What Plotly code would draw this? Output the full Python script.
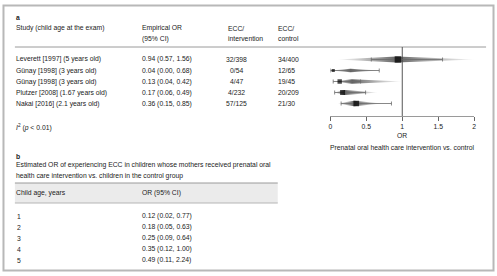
import plotly.graph_objects as go

# ---------------- data ----------------
studies = ["Leverett [1997] (5 years old)", "Günay [1998] (3 years old)",
           "Günay [1998] (3 years old)", "Plutzer [2008] (1.67 years old)",
           "Nakai [2016] (2.1 years old)"]
or_est = [0.94, 0.04, 0.13, 0.17, 0.36]
or_lo = [0.57, 0.00, 0.04, 0.06, 0.15]
or_hi = [1.56, 0.68, 0.42, 0.49, 0.85]
ecc_intervention = ["32/398", "0/54", "4/47", "4/232", "57/125"]
ecc_control = ["34/400", "12/65", "19/45", "20/209", "21/30"]
study_weight = [30, 8, 16, 20, 24]
# shaded distribution extent per study (OR scale)
dist_lo = [0.10, 0.01, 0.04, 0.05, 0.10]
dist_mode = [0.92, 0.28, 0.30, 0.20, 0.33]
dist_hi = [2.00, 0.68, 1.00, 0.66, 0.72]
het_p_text = "0.01"

child_age = [1, 2, 3, 4, 5]
b_or = [0.12, 0.18, 0.25, 0.35, 0.49]
b_lo = [0.02, 0.05, 0.09, 0.12, 0.11]
b_hi = [0.77, 0.63, 0.64, 1.00, 2.24]

x_ticks = [0, 0.5, 1, 1.5, 2]
x_ticktext = ["0", "0.5", "1", "1.5", "2"]

# ---------------- layout helpers ----------------
W, H = 497, 276
FONT = "Liberation Sans"
FS = 6.8
TXT = "#222222"


def px(x):
    return x / W


def py(y):
    return 1 - y / H


def fmt(e, l, h):
    return f"{e:.2f} ({l:.2f}, {h:.2f})"


fig = go.Figure()

n = len(studies)
rows = list(range(n))
wmax = max(study_weight)

# shaded spindles
for i in rows:
    lo, mo, hi = dist_lo[i], dist_mode[i], dist_hi[i]
    hh = 0.12 + 0.16 * study_weight[i] / wmax
    p = (mo - lo) / (hi - lo)
    fig.add_trace(go.Scatter(
        x=[lo, mo, hi, mo, lo], y=[i, i - hh, i, i + hh, i],
        mode="lines", line=dict(width=0), fill="toself",
        fillgradient=dict(type="horizontal", start=lo, stop=hi,
                          colorscale=[[0, "rgba(120,120,120,0.05)"],
                                      [p, "rgba(70,70,70,0.85)"],
                                      [1, "rgba(120,120,120,0.05)"]]),
        hoverinfo="skip", showlegend=False))

# CI whiskers and point estimates
fig.add_trace(go.Scatter(
    x=or_est, y=rows, mode="markers",
    marker=dict(symbol="square", color="black",
                size=[2 + 4.5 * w / wmax for w in study_weight],
                line=dict(width=0)),
    error_x=dict(type="data", symmetric=False,
                 array=[h - e for h, e in zip(or_hi, or_est)],
                 arrayminus=[e - l for e, l in zip(or_est, or_lo)],
                 color="#6a6a6a", thickness=0.8, width=2),
    showlegend=False, hoverinfo="skip"))

shapes = []
annotations = []

# outer frame
shapes.append(dict(type="rect", xref="paper", yref="paper",
                   x0=px(1.5), x1=px(495.5), y0=py(270.5), y1=py(5.5),
                   line=dict(color="#b8b8b8", width=2), layer="below"))
# panel a header rule
shapes.append(dict(type="line", xref="paper", yref="paper",
                   x0=px(13), x1=px(488), y0=py(47), y1=py(47),
                   line=dict(color="#9a9a9a", width=1), layer="below"))
# OR = 1 reference line
shapes.append(dict(type="line", xref="x", yref="y domain", x0=1, x1=1, y0=0, y1=1,
                   line=dict(color="#555555", width=1), layer="below"))
# panel b header band
shapes.append(dict(type="rect", xref="paper", yref="paper",
                   x0=px(13), x1=px(278), y0=py(203), y1=py(183),
                   fillcolor="#ebebeb", line=dict(width=0), layer="below"))
shapes.append(dict(type="line", xref="paper", yref="paper",
                   x0=px(13), x1=px(278), y0=py(183), y1=py(183),
                   line=dict(color="#9a9a9a", width=1), layer="below"))
shapes.append(dict(type="line", xref="paper", yref="paper",
                   x0=px(13), x1=px(278), y0=py(203), y1=py(203),
                   line=dict(color="#b5b5b5", width=1), layer="below"))


def txt(x, y, s, anchor="left", bold=False, size=FS):
    annotations.append(dict(
        xref="paper", yref="paper", x=px(x), y=py(y), text=s, showarrow=False,
        xanchor=anchor, yanchor="middle", borderpad=0,
        font=dict(family=FONT, size=size, color=TXT,
                  weight="bold" if bold else "normal")))


# panel a headers
txt(13, 18, "a", bold=True)
txt(13, 28, "Study (child age at the exam)")
txt(140, 28, "Empirical OR")
txt(140, 39, "(95% CI)")
txt(227, 28, "ECC/")
txt(227, 39, "intervention")
txt(277, 28, "ECC/")
txt(277, 39, "control")

row_y = [59.5 + 11 * i for i in rows]
for i in rows:
    txt(13, row_y[i], studies[i])
    txt(140, row_y[i], fmt(or_est[i], or_lo[i], or_hi[i]))
    txt(236, row_y[i], ecc_intervention[i], anchor="center")
    txt(277, row_y[i], ecc_control[i])

txt(13, 127, "<i>I</i><sup>2</sup> (<i>p</i> &lt; " + het_p_text + ")")

# forest axis labels
annotations.append(dict(xref="x", yref="paper", x=1, y=py(135), text="OR",
                        showarrow=False, xanchor="center", yanchor="middle",
                        font=dict(family=FONT, size=FS, color=TXT)))
annotations.append(dict(xref="x", yref="paper", x=1, y=py(147.5),
                        text="Prenatal oral health care intervention vs. control",
                        showarrow=False, xanchor="center", yanchor="middle",
                        font=dict(family=FONT, size=FS, color=TXT)))

# panel b
txt(13, 156, "b", bold=True)
txt(13, 164.5, "Estimated OR of experiencing ECC in children whose mothers received prenatal oral")
txt(13, 175.5, "health care intervention vs. children in the control group")
txt(13, 193, "Child age, years")
txt(140, 193, "OR (95% CI)")
for j, a in enumerate(child_age):
    yy = 216 + 11 * j
    txt(14, yy, str(a))
    txt(140, yy, fmt(b_or[j], b_lo[j], b_hi[j]))

# axes: forest panel spans y pixels 47..116, rows 11 px apart starting at 59.5
top_px, bot_px = 47, 116
fig.update_layout(
    width=W, height=H,
    margin=dict(l=0, r=0, t=0, b=0),
    paper_bgcolor="white", plot_bgcolor="rgba(0,0,0,0)",
    shapes=shapes, annotations=annotations,
    xaxis=dict(domain=[px(331), px(476)], range=[0, 2], tickvals=x_ticks,
               ticktext=x_ticktext, showline=True, linecolor="#9a9a9a", linewidth=1,
               ticks="outside", ticklen=4, tickcolor="#666666", tickwidth=1,
               showgrid=False, zeroline=False,
               tickfont=dict(family=FONT, size=FS, color=TXT)),
    yaxis=dict(domain=[py(bot_px), py(top_px)],
               range=[(n - 1) + (bot_px - row_y[-1]) / 11, -(row_y[0] - top_px) / 11],
               visible=False, showgrid=False, zeroline=False),
)

fig.write_html("out.html", config={"displayModeBar": False},
               post_script="document.body.style.margin='0';document.body.style.overflow='hidden';")
